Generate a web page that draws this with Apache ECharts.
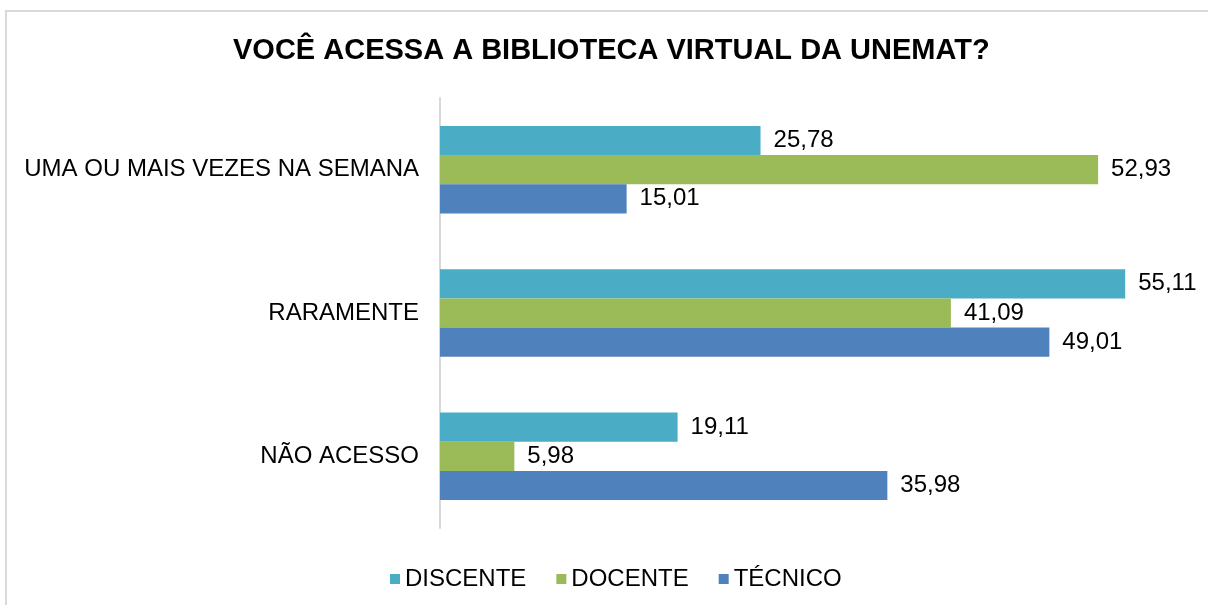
<!DOCTYPE html>
<html lang="pt">
<head>
    <meta charset="UTF-8">
    <script src="https://cdn.jsdelivr.net/npm/echarts@6/dist/echarts.min.js"></script>
    <style>
        html, body { margin: 0; padding: 0; background: #fff; }
    </style>
</head>
<body>
    <div id="main" style="width: 1208px; height: 605px;"></div>
    <script>
        var categories = ['UMA OU MAIS VEZES NA SEMANA', 'RARAMENTE', 'NÃO ACESSO'];
        var discente = [25.78, 55.11, 19.11];
        var docente = [52.93, 41.09, 5.98];
        var tecnico = [15.01, 49.01, 35.98];

        var font = 'Liberation Sans, Arial, sans-serif';

        function fmt(p) {
            return p.value.toFixed(2).replace('.', ',');
        }

        function barSeries(name, data, color) {
            return {
                name: name,
                type: 'bar',
                data: data,
                barGap: '0%',
                barCategoryGap: '39%',
                itemStyle: { color: color },
                label: {
                    show: true,
                    position: 'right',
                    distance: 13,
                    formatter: fmt,
                    color: '#000',
                    fontSize: 24,
                    fontFamily: font
                }
            };
        }

        var chart = echarts.init(document.getElementById('main'));
        chart.setOption({
            animation: false,
            backgroundColor: '#fff',
            color: ['#4BACC6', '#9BBB59', '#4F81BD'],
            title: {
                text: 'VOCÊ ACESSA A BIBLIOTECA VIRTUAL DA UNEMAT?',
                left: 228,
                top: 31,
                textStyle: {
                    fontFamily: font,
                    fontSize: 29,
                    fontWeight: 'bold',
                    color: '#000'
                }
            },
            legend: {
                bottom: 9,
                left: 385,
                icon: 'rect',
                itemWidth: 10,
                itemHeight: 10,
                itemGap: 30,
                textStyle: { fontFamily: font, fontSize: 24, color: '#000' },
                data: ['DISCENTE', 'DOCENTE', 'TÉCNICO']
            },
            grid: {
                left: 440,
                top: 98,
                width: 746,
                height: 430
            },
            xAxis: {
                type: 'value',
                min: 0,
                max: 60,
                show: false
            },
            yAxis: {
                type: 'category',
                inverse: true,
                data: categories,
                axisLine: { lineStyle: { color: '#d9d9d9', width: 2 } },
                axisTick: { show: false },
                axisLabel: {
                    margin: 21,
                    fontFamily: font,
                    fontSize: 24,
                    color: '#000'
                }
            },
            series: [
                barSeries('DISCENTE', discente, '#4BACC6'),
                barSeries('DOCENTE', docente, '#9BBB59'),
                barSeries('TÉCNICO', tecnico, '#4F81BD')
            ],
            graphic: [{
                type: 'rect',
                shape: { x: 6, y: 11, width: 1400, height: 800 },
                style: { fill: 'none', stroke: '#d9d9d9', lineWidth: 2 },
                silent: true
            }]
        });
    </script>
</body>
</html>
